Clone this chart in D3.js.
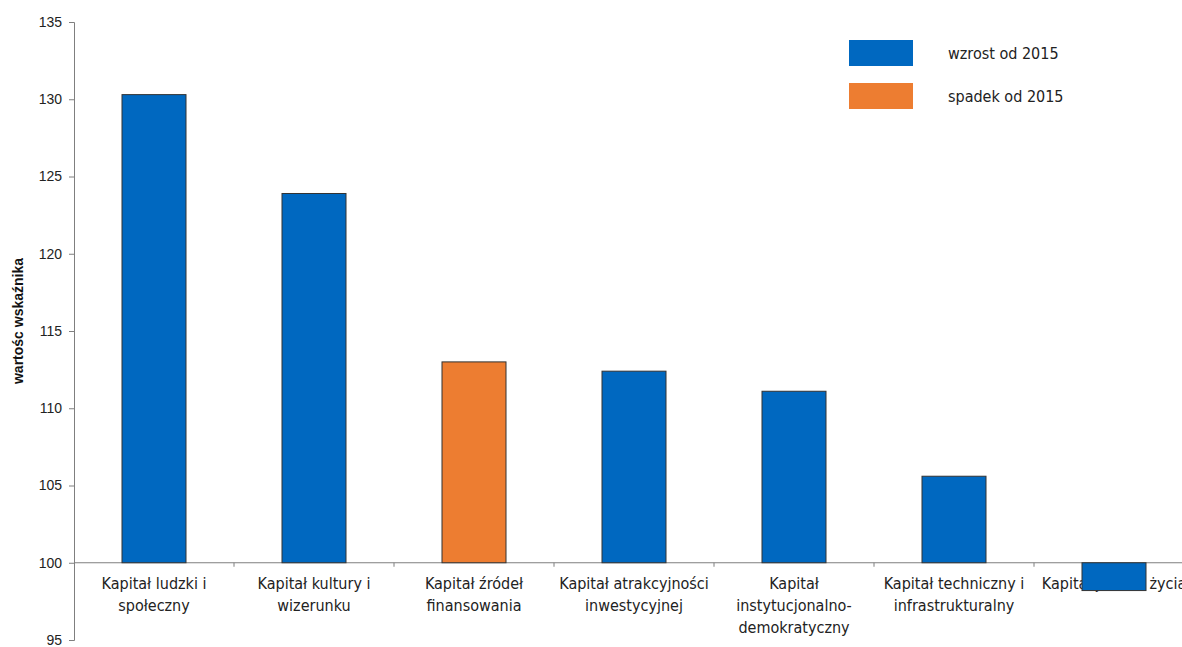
<!DOCTYPE html>
<html><head><meta charset="utf-8">
<script src="https://cdn.jsdelivr.net/npm/d3@7/dist/d3.min.js"></script>
<style>body{margin:0;background:#fff}</style>
</head><body>
<svg id="c" width="1182" height="647"></svg>
<script>
const categories = [
  ["Kapitał ludzki i","społeczny"],
  ["Kapitał kultury i","wizerunku"],
  ["Kapitał źródeł","finansowania"],
  ["Kapitał atrakcyjności","inwestycyjnej"],
  ["Kapitał","instytucjonalno-","demokratyczny"],
  ["Kapitał techniczny i","infrastrukturalny"],
  ["Kapitał jakości życia"]
];
const values = [130.3, 123.9, 113.0, 112.4, 111.1, 105.6, 98.2];
const seriesType = ["wzrost","wzrost","spadek","wzrost","wzrost","wzrost","wzrost"];
const legendLabels = ["wzrost od 2015","spadek od 2015"];
const yTicks = [95,100,105,110,115,120,125,130,135];
const colors = {wzrost:"#0068C0", spadek:"#ED7D31"};

const svg = d3.select("#c");
const x0 = 74, bw = 160;
const x = d3.scaleBand().domain(d3.range(categories.length)).range([x0, x0 + bw*categories.length]).paddingInner(0.6).paddingOuter(0.3);
const y = d3.scaleLinear().domain([95,135]).range([640,22]);

// y axis
const ya = svg.append("g").attr("transform",`translate(${x0},0)`)
  .call(d3.axisLeft(y).tickValues(yTicks).tickSize(5).tickPadding(7));
ya.select(".domain").attr("stroke","#7f7f7f");
ya.selectAll(".tick line").attr("stroke","#7f7f7f");
ya.selectAll(".tick text").attr("font-family","Liberation Sans, Arial").attr("font-size",14).attr("fill","#222");

svg.append("text").attr("transform",`translate(23,${321}) rotate(-90)`)
  .attr("text-anchor","middle").attr("font-family","Liberation Sans, Arial")
  .attr("font-weight","bold").attr("font-size",14).attr("fill","#111")
  .text("wartośc wskaźnika");

// x axis line at 100
const y100 = y(100);
svg.append("line").attr("x1",x0).attr("x2",1182).attr("y1",y100).attr("y2",y100).attr("stroke","#7f7f7f");
const boundaries = d3.range(1, categories.length+1).map(i => x0 + i*bw);
svg.selectAll(".xt").data(boundaries).join("line").attr("class","xt")
  .attr("x1",d=>d).attr("x2",d=>d).attr("y1",y100).attr("y2",y100+4).attr("stroke","#7f7f7f");

// category labels
categories.forEach((lines,i)=>{
  const cx = x(i) + x.bandwidth()/2;
  const t = svg.append("text").attr("text-anchor","middle")
    .attr("font-family","DejaVu Sans Condensed, DejaVu Sans").attr("font-size",16).attr("fill","#222");
  lines.forEach((l,j)=>t.append("tspan").attr("x",cx).attr("y",589+j*22).text(l));
});

// bars
svg.selectAll(".bar").data(values).join("rect").attr("class","bar")
  .attr("x",(d,i)=>x(i)).attr("width",x.bandwidth())
  .attr("y",d=>y(Math.max(d,100))).attr("height",d=>Math.abs(y(d)-y(100)))
  .attr("fill",(d,i)=>colors[seriesType[i]]).attr("stroke","#333").attr("stroke-width",1);

// legend
const lg = svg.append("g");
["wzrost","spadek"].forEach((k,i)=>{
  lg.append("rect").attr("x",849).attr("y",40+i*43).attr("width",64).attr("height",26).attr("fill",colors[k]);
  lg.append("text").attr("x",948).attr("y",59+i*43).attr("font-family","DejaVu Sans Condensed, DejaVu Sans")
    .attr("font-size",16).attr("fill","#222").text(legendLabels[i]);
});
</script>
</body></html>
